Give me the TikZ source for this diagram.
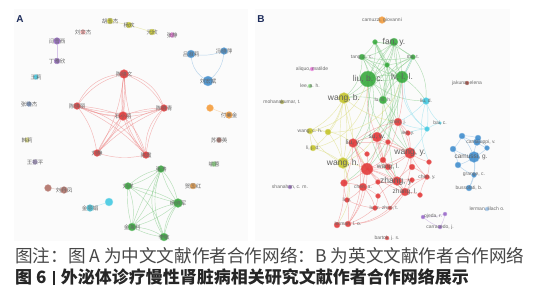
\documentclass[tikz,border=0pt]{standalone}
\usepackage{fontspec}
\setmainfont{Liberation Sans}
\newfontfamily\cjk{Noto Sans CJK SC}
\pgfdeclarelayer{back}
\pgfdeclarelayer{links}
\pgfsetlayers{back,links,main}
\definecolor{cR}{RGB}{226,54,54}
\definecolor{cG}{RGB}{52,168,58}
\definecolor{cB}{RGB}{62,140,205}
\definecolor{cY}{RGB}{196,196,40}
\definecolor{cP}{RGB}{150,100,200}
\definecolor{cC}{RGB}{64,200,225}
\definecolor{cO}{RGB}{245,155,55}
\definecolor{cBr}{RGB}{175,110,100}
\definecolor{cPk}{RGB}{225,110,210}
\definecolor{cLP}{RGB}{240,160,160}
\definecolor{cSB}{RGB}{120,150,200}
\definecolor{cPY}{RGB}{215,215,120}
\definecolor{cLav}{RGB}{170,150,210}
\definecolor{cLG}{RGB}{130,210,120}
\definecolor{cDR}{RGB}{150,60,50}
\definecolor{cOl}{RGB}{160,160,60}
\definecolor{cLB}{RGB}{150,190,230}
\definecolor{navy}{RGB}{30,45,92}
\tikzset{
  dot/.style 2 args={circle, inner sep=0pt, minimum size=#2pt, fill=#1, fill opacity=0.88, draw=#1!55!white, line width=0.3pt},
  labA/.style={font=\cjk\fontsize{5.5}{5.5}\selectfont, text=black!60, inner sep=0pt},
  labS/.style={font=\fontsize{5}{5}\selectfont, text=black!58, inner sep=0pt},
  labM/.style={font=\fontsize{6.5}{6.5}\selectfont, text=black!62, inner sep=0pt},
  labL/.style={font=\fontsize{8.5}{8.5}\selectfont, text=black!62, inner sep=0pt},
  ed/.style={draw=#1!60!white, line width=0.45pt, draw opacity=0.6},
  panelbg/.style={fill=black!1.5, draw=none},
  plabel/.style={font=\bfseries\fontsize{10}{10}\selectfont, text=navy, inner sep=0pt},
  captxt/.style={anchor=west, inner sep=0pt, font=\cjk\fontsize{17.6}{17.6}\selectfont}
}
\begin{document}
\begin{tikzpicture}[x=1pt,y=-1pt]
\useasboundingbox (0,0) rectangle (545,300);
% ---------------- panel A nodes
\node[dot={cY}{6}] (a1) at (110,21) {};  \node[labA] (a1t) at (a1) {胡玉杰};
\node[dot={cY}{6}] (a2) at (129,25) {};  \node[labA] (a2t) at (a2) {杨欢};
\node[dot={cY}{6}] (a3) at (152,32) {};  \node[labA] (a3t) at (a3) {元欣};
\node[dot={cPk}{5}] (a4) at (172,35) {}; \node[labA] (a4t) at (a4) {张静};
\node[dot={cLP}{5}] (a5) at (83,32) {};  \node[labA] (a5t) at (a5) {刘文杰};
\node[dot={cP}{7}] (a6) at (57,41) {};   \node[labA] (a6t) at (a6) {闫雪西};
\node[dot={cP}{6}] (a7) at (57,61) {};   \node[labA] (a7t) at (a7) {丁雅欣};
\node[dot={cC}{5}] (a8) at (36,77) {};   \node[labA] (a8t) at (a8) {王莉};
\node[dot={cB}{8}] (a9) at (191,54) {};  \node[labA] (a9t) at (a9) {吕淑莉};
\node[dot={cB}{7}] (a10) at (224,51) {}; \node[labA] (a10t) at (a10) {冯晓萍};
\node[dot={cB}{10}] (a11) at (208,81) {};\node[labA] (a11t) at (a11) {刘宏斌};
\node[dot={cR}{9}] (a12) at (124,74) {}; \node[labA] (a12t) at (a12) {陈晓文};
\node[dot={cR}{7}] (a13) at (77,106) {}; \node[labA] (a13t) at (a13) {陈晓丽};
\node[dot={cR}{9}] (a14) at (123,116) {};\node[labA] (a14t) at (a14) {石小丽};
\node[dot={cR}{7}] (a15) at (164,108) {};\node[labA] (a15t) at (a15) {陈晓青};
\node[dot={cR}{7}] (a16) at (97,153) {}; \node[labA] (a16t) at (a16) {刘静};
\node[dot={cR}{7}] (a17) at (146,155) {};\node[labA] (a17t) at (a17) {陈霞};
\node[dot={cSB}{5}] (a18) at (29,104) {};\node[labA] (a18t) at (a18) {张晓杰};
\node[dot={cO}{7}] (a19) at (210,108) {};
\node[dot={cO}{7}] (a20) at (229,115) {};\node[labA] (a20t) at (a20) {付美金};
\node[dot={cPY}{5}] (a21) at (27,140) {};\node[labA] (a21t) at (a21) {韩莉};
\node[dot={cLav}{5}] (a22) at (35,162) {};\node[labA] (a22t) at (a22) {王振平};
\node[dot={cBr}{5}] (a23) at (219,140) {};\node[labA] (a23t) at (a23) {苏丽英};
\node[dot={cLG}{5}] (a24) at (214,164) {};\node[labA] (a24t) at (a24) {喻蓉};
\node[dot={cBr}{7}] (a25) at (48,188) {};
\node[dot={cBr}{7}] (a26) at (64,190) {};\node[labA] (a26t) at (a26) {刘丹凤};
\node[dot={cC}{8}] (a27) at (109,202) {};
\node[dot={cC}{7}] (a28) at (90,208) {}; \node[labA] (a28t) at (a28) {金丽娟};
\node[dot={cG}{7}] (a29) at (161,169) {};\node[labA] (a29t) at (a29) {张涛};
\node[dot={cG}{7}] (a30) at (128,186) {};\node[labA] (a30t) at (a30) {刘洋};
\node[dot={cG}{9}] (a31) at (178,203) {};\node[labA] (a31t) at (a31) {杨晓军};
\node[dot={cG}{8}] (a32) at (132,227) {};\node[labA] (a32t) at (a32) {金海利};
\node[dot={cG}{8}] (a33) at (164,237) {};\node[labA] (a33t) at (a33) {李敏};
\node[dot={cO}{6}] (a34) at (193,186) {};\node[labA] (a34t) at (a34) {贺国红};
% ---------------- panel B nodes
\node[dot={cO}{7}] (b1) at (382,20) {};   \node[labS] (b1t) at (b1) {camuzzi, giovanni};
\node[dot={cG}{8}] (b2) at (394,42) {};   \node[labL] (b2t) at (b2) {fan, y.};
\node[dot={cG}{5}] (b3) at (375,42) {};
\node[dot={cG}{6}] (b4) at (362,57) {};   \node[labS] (b4t) at (b4) {tang, c. c.};
\node[dot={cG}{5}] (b5) at (413,57) {};   \node[labS] (b5t) at (b5) {ma, t.};
\node[dot={cG}{5}] (b6) at (387,65) {};
\node[dot={cG}{16}] (b7) at (368,79) {};  \node[labL] (b7t) at (b7) {liu, b. c.};
\node[dot={cG}{12}] (b8) at (402,77) {};  \node[labL] (b8t) at (b8) {lv, l. l.};
\node[dot={cG}{8}] (b9) at (383,100) {};  \node[labS] (b9t) at (b9) {lu, b. h.};
\node[dot={cY}{11}] (b10) at (344,98) {}; \node[labL] (b10t) at (b10) {wang, b.};
\node[dot={cPk}{4}] (b11) at (312,69) {}; \node[labS] (b11t) at (b11) {aliquo, matilde};
\node[dot={cLG}{4}] (b12) at (310,86) {}; \node[labS] (b12t) at (b12) {lee, a. h.};
\node[dot={cOl}{4}] (b13) at (282,102) {};\node[labS] (b13t) at (b13) {mohanakumar, t.};
\node[dot={cDR}{4}] (b14) at (467,83) {}; \node[labS] (b14t) at (b14) {jakuna, elena};
\node[dot={cC}{7}] (b15) at (426,101) {}; \node[labS] (b15t) at (b15) {liu, d.};
\node[dot={cC}{5}] (b16) at (427,129) {};
\node[dot={cC}{3}] (b17) at (440,123) {}; \node[labS] (b17t) at (b17) {bai, c.};
\node[dot={cR}{8}] (b18) at (398,122) {}; \node[labS] (b18t) at (b18) {chen, j.};
\node[dot={cR}{5}] (b19) at (408,133) {}; \node[labS] (b19t) at (b19) {lee, y.};
\node[dot={cY}{6}] (b20) at (310,131) {}; \node[labS] (b20t) at (b20) {wang, c. h.};
\node[dot={cY}{6}] (b21) at (328,132) {};
\node[dot={cY}{6}] (b22) at (313,148) {}; \node[labS] (b22t) at (b22) {li, j. d.};
\node[dot={cY}{11}] (b23) at (343,163) {};\node[labL] (b23t) at (b23) {wang, h.};
\node[dot={cR}{9}] (b24) at (353,143) {}; \node[labM] (b24t) at (b24) {liu, y.};
\node[dot={cR}{10}] (b25) at (377,137) {};\node[labM] (b25t) at (b25) {su, w.};
\node[dot={cR}{5}] (b26) at (388,142) {};
\node[dot={cR}{11}] (b27) at (410,153) {};\node[labL] (b27t) at (b27) {wang, y.};
\node[dot={cR}{5}] (b28) at (367,154) {};
\node[dot={cR}{6}] (b29) at (383,160) {};
\node[dot={cR}{12}] (b30) at (367,169) {};
\node[dot={cR}{6}] (b31) at (388,167) {}; \node[labM] (b31t) at (b31) {wang, l.};
\node[dot={cR}{6}] (b32) at (412,167) {};
\node[dot={cR}{5}] (b33) at (429,162) {};
\node[dot={cR}{9}] (b34) at (397,181) {}; \node[labL] (b34t) at (b34) {zhang, y.};
\node[dot={cR}{5}] (b35) at (412,180) {};
\node[dot={cR}{5}] (b36) at (427,177) {}; \node[labS] (b36t) at (b36) {chen, y.};
\node[dot={cR}{5}] (b37) at (378,182) {};
\node[dot={cR}{7}] (b38) at (344,183) {};
\node[dot={cR}{8}] (b39) at (363,187) {}; \node[labS] (b39t) at (b39) {chen, a.};
\node[dot={cR}{8}] (b40) at (405,192) {}; \node[labM] (b40t) at (b40) {zhang, l.};
\node[dot={cR}{5}] (b41) at (420,195) {};
\node[dot={cR}{5}] (b42) at (378,196) {};
\node[dot={cR}{5}] (b43) at (347,200) {}; \node[labS] (b43t) at (b43) {li, y.};
\node[dot={cR}{5}] (b44) at (375,208) {}; \node[labS] (b44t) at (b44) {lu, z.};
\node[dot={cR}{4}] (b45) at (390,208) {}; \node[labS] (b45t) at (b45) {zhao, t.};
\node[dot={cR}{6}] (b46) at (337,225) {};
\node[dot={cR}{6}] (b47) at (348,224) {}; \node[labS] (b47t) at (b47) {lerman, l. o.};
\node[dot={cP}{4}] (b48) at (290,187) {}; \node[labS] (b48t) at (b48) {shanahan, c. m.};
\node[dot={cP}{4}] (b49) at (445,214) {};
\node[dot={cP}{4}] (b50) at (423,217) {}; \node[labS] (b50t) at (433,216) {ojeda, r.};
\node[dot={cP}{4}] (b51) at (440,227) {}; \node[labS] (b51t) at (b51) {carracedo, j.};
\node[dot={cLB}{4}] (b52) at (487,209) {};\node[labS] (b52t) at (b52) {lerman, lilach o.};
\node[dot={cR}{4}] (b53) at (387,238) {}; \node[labS] (b53t) at (b53) {bartok, j. s.};
\node[dot={cB}{11}] (b54) at (474,157) {};
\node[dot={cB}{7}] (b55) at (477,142) {};
\node[dot={cB}{6}] (b56) at (462,136) {};
\node[dot={cB}{6}] (b57) at (478,138) {};
\node[dot={cB}{6}] (b58) at (453,149) {};
\node[dot={cB}{6}] (b59) at (458,165) {};
\node[dot={cB}{5}] (b60) at (474,175) {}; \node[labS] (b60t) at (b60) {grange, c.};
\node[dot={cB}{6}] (b61) at (469,188) {}; \node[labS] (b61t) at (b61) {bussolati, b.};
\node[dot={cB}{5}] (b62) at (487,148) {};
\node[labM] (b54t) at (471,157) {camussi, g.};
\node[labS] (b55t) at (481,142) {cantaluppi, v.};
% panel letters
\node[plabel] (pA) at (20,19) {A};
\node[plabel] (pB) at (261,19) {B};
% captions
\node[captxt, text=black!72] (cap1) at (15,256) {图注：图 A 为中文文献作者合作网络：B 为英文文献作者合作网络};
\node[captxt, text=black!85, font=\cjk\bfseries\fontsize{17}{17}\selectfont] (cap2) at (15,277) {图\hspace{4pt}6\hspace{6pt}\rule[-1.5pt]{2.4pt}{14pt}\hspace{6pt}外泌体诊疗慢性肾脏病相关研究文献作者合作网络展示};
% ---------------- backgrounds
\begin{pgfonlayer}{back}
\fill[white] (0,0) rectangle (545,300);
\fill[panelbg] (14,9) rectangle (248,241);
\fill[panelbg] (255,9) rectangle (510,241);
\end{pgfonlayer}
% ---------------- edges
\begin{pgfonlayer}{links}
\foreach \u/\v/\b in {a12/a13/-20,a12/a13/-32,a12/a14/8,a12/a14/-8,a12/a15/20,a12/a15/32,a12/a16/12,a12/a16/24,a12/a17/-12,a12/a17/-24,a13/a14/-10,a13/a14/8,a13/a15/-14,a13/a15/-22,a13/a16/14,a13/a17/20,a13/a17/10,a14/a15/10,a14/a16/10,a14/a16/-10,a14/a17/-14,a14/a17/14,a15/a16/-20,a15/a16/-10,a15/a17/-14,a15/a17/-26,a16/a17/-14}
  \draw[ed=cR] (\u.center) to[bend left=\b] (\v.center);
\foreach \u/\v/\b in {a29/a30/-15,a29/a30/10,a29/a31/15,a29/a31/-10,a29/a32/10,a29/a32/-8,a29/a33/-22,a29/a33/-32,a30/a31/10,a30/a31/-5,a30/a32/15,a30/a32/-10,a30/a33/20,a31/a32/-15,a31/a32/12,a31/a33/-20,a31/a33/-10,a32/a33/15,a32/a33/-10}
  \draw[ed=cG] (\u.center) to[bend left=\b] (\v.center);
\draw[ed=cB] (a9.center) to[bend right=15] (a10.center);
\draw[ed=cB] (a9.center) to[bend right=30] (a11.center);
\draw[ed=cB] (a10.center) to[bend left=25] (a11.center);
\draw[ed=cY] (a1) -- (a2);
\draw[ed=cY] (a2) -- (a3);
\draw[ed=cP] (a6) -- (a7);
\draw[ed=cO] (a19) -- (a20);
\draw[ed=cC] (a27) -- (a28);
\draw[ed=cBr] (a25) -- (a26);
% B green
\foreach \u/\v/\b in {b2/b3/10,b2/b4/15,b2/b5/-10,b2/b6/10,b2/b7/20,b2/b7/-10,b2/b8/-15,b2/b9/25,b3/b4/10,b3/b6/-10,b3/b7/15,b3/b8/-20,b3/b9/20,b4/b5/-10,b4/b6/-10,b4/b7/15,b4/b8/-15,b4/b9/20,b5/b6/10,b5/b7/15,b5/b8/10,b5/b9/-20,b6/b7/10,b6/b8/-10,b6/b9/10,b7/b8/15,b7/b8/-15,b7/b9/15,b8/b9/-15,b3/b5/15,b4/b9/45,b5/b9/-40,b2/b10/40,b4/b10/25,b7/b10/10,b9/b10/-10,b5/b15/20,b8/b15/10,b7/b15/-20,b7/b27/-30,b8/b25/20,b2/b24/50,b5/b27/-30,b9/b18/10,b9/b25/10,b6/b29/15,b8/b34/-20,b3/b30/40,b7/b24/20,b9/b27/-15,b4/b23/40,b2/b40/-45,b3/b38/45}
  \draw[ed=cG] (\u.center) to[bend left=\b] (\v.center);
% B yellow
\foreach \u/\v/\b in {b10/b20/15,b10/b21/10,b10/b22/20,b10/b23/-10,b10/b23/10,b20/b21/10,b21/b23/10,b20/b23/-20,b22/b23/10,b20/b22/-10,b23/b30/10,b23/b24/-10,b10/b24/10,b10/b30/-10,b23/b38/10,b23/b43/15,b23/b46/30,b20/b7/-30,b22/b7/-40,b10/b18/-15,b23/b9/-35,b21/b8/-40,b20/b24/20}
  \draw[ed=cY] (\u.center) to[bend left=\b] (\v.center);
% B cyan
\foreach \u/\v/\b in {b15/b16/10,b15/b17/-15,b16/b17/10,b16/b18/10,b16/b27/10,b15/b18/10,b5/b16/-45,b15/b33/-20,b16/b19/-10,b8/b16/-30}
  \draw[ed=cC] (\u.center) to[bend left=\b] (\v.center);
% B red
\foreach \u/\v/\b in {b18/b19/10,b18/b25/-10,b18/b27/15,b18/b24/-15,b18/b29/10,b19/b27/10,b24/b25/10,b24/b28/10,b24/b30/-10,b24/b38/10,b24/b39/15,b25/b26/10,b25/b27/-10,b25/b29/10,b25/b30/15,b25/b31/-10,b26/b27/10,b27/b31/10,b27/b32/10,b27/b33/-10,b27/b34/15,b27/b36/-10,b28/b30/10,b29/b30/10,b29/b31/10,b30/b31/-10,b30/b34/10,b30/b37/10,b30/b38/10,b30/b39/-10,b30/b40/15,b31/b34/10,b32/b34/-10,b33/b36/10,b34/b35/10,b34/b36/-10,b34/b37/10,b34/b40/10,b34/b42/-10,b35/b40/10,b36/b40/-10,b37/b39/10,b38/b39/10,b38/b43/-10,b39/b42/10,b39/b43/10,b40/b41/10,b40/b45/-10,b42/b44/10,b44/b45/10,b43/b44/-10,b39/b44/15,b24/b27/15,b30/b27/-10,b38/b46/10,b46/b47/10,b47/b39/-15,b47/b30/-20,b47/b24/-25,b47/b27/-50,b47/b40/-30,b43/b47/10,b44/b47/10,b29/b34/10,b26/b29/10,b32/b36/10,b41/b36/10,b25/b34/-20,b24/b40/-25,b30/b45/10,b18/b8/-10,b25/b7/15}
  \draw[ed=cR] (\u.center) to[bend left=\b] (\v.center);
% B blue
\foreach \u/\v/\b in {b54/b55/10,b54/b56/-10,b54/b58/10,b54/b59/10,b54/b60/10,b54/b62/-10,b55/b56/10,b55/b57/10,b56/b58/10,b58/b59/10,b59/b60/-10,b60/b61/10,b54/b61/15,b57/b62/10,b55/b62/-10,b56/b57/10}
  \draw[ed=cB] (\u.center) to[bend left=\b] (\v.center);
% B purple
\foreach \u/\v/\b in {b49/b50/10,b49/b51/10,b50/b51/-10}
  \draw[ed=cP] (\u.center) to[bend left=\b] (\v.center);
\end{pgfonlayer}
\end{tikzpicture}
\end{document}
